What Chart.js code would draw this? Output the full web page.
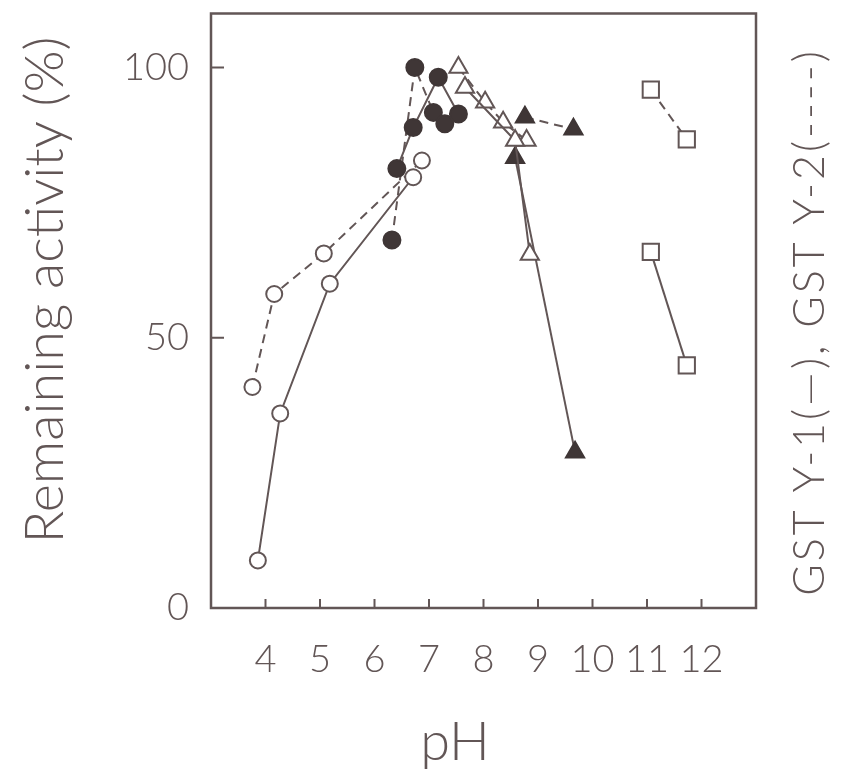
<!DOCTYPE html>
<html>
<head>
<meta charset="utf-8">
<script src="https://cdn.jsdelivr.net/npm/chart.js@4.4.1/dist/chart.umd.min.js"></script>
<style>
  html, body { margin: 0; padding: 0; background: #fff; }
  #wrap { width: 844px; height: 776px; }
</style>
</head>
<body>
<div id="wrap"><canvas id="myChart" width="844" height="776"></canvas></div>
<script>
// pH axis and activity axis
const xTicks = [4, 5, 6, 7, 8, 9, 10, 11, 12];
const yTicks = [0, 50, 100];

// [pH, remaining activity %]
// Y-1 is drawn solid, Y-2 dashed
const openCircleY1 = [[3.86, 8.8], [4.27, 36.0], [5.18, 60.0], [6.71, 79.7]];
const openCircleY2 = [[3.76, 40.9], [4.16, 58.1], [5.07, 65.6], [6.87, 82.8]];
const filledCircleY1 = [[6.41, 81.3], [6.71, 88.9], [7.17, 98.2], [7.54, 91.4]];
const filledCircleY2 = [[6.32, 68.1], [6.74, 100.0], [7.08, 91.7], [7.29, 89.6]];
const openTriangleY1 = [[7.66, 96.3], [8.58, 86.5], [8.85, 65.4]];
const openTriangleY2 = [[7.54, 100.0], [8.03, 93.6], [8.36, 89.9], [8.79, 86.5]];
const filledTriangleY1 = [[8.58, 83.3], [9.68, 28.8]];
const filledTriangleY2 = [[8.76, 90.8], [9.65, 88.6]];
const openSquareY1 = [[11.07, 65.9], [11.73, 44.9]];
const openSquareY2 = [[11.07, 95.9], [11.73, 86.7]];

const INK = "#625656";
const DARK = "#3f3636";
const FONT = "Lato";

function series(label, pts, shape, filled, dashed) {
    let r = filled ? 8.5 : 8;
    if (shape == "triangle") r = 10.5;
    if (shape == "rect") r = 11.5;
    return {
        label: label,
        data: pts.map(p => ({x: p[0], y: p[1]})),
        showLine: true,
        borderColor: INK,
        borderWidth: 2,
        borderDash: dashed ? [9, 6] : [],
        pointStyle: shape,
        pointRadius: r,
        pointHoverRadius: r,
        pointBorderWidth: 2,
        pointBorderColor: filled ? DARK : INK,
        pointBackgroundColor: filled ? DARK : "#fff"
    };
}

let datasets = [
    series("Y-1 open circle", openCircleY1, "circle", false, false),
    series("Y-2 open circle", openCircleY2, "circle", false, true),
    series("Y-1 filled circle", filledCircleY1, "circle", true, false),
    series("Y-2 filled circle", filledCircleY2, "circle", true, true),
    series("Y-1 open triangle", openTriangleY1, "triangle", false, false),
    series("Y-2 open triangle", openTriangleY2, "triangle", false, true),
    series("Y-1 filled triangle", filledTriangleY1, "triangle", true, false),
    series("Y-2 filled triangle", filledTriangleY2, "triangle", true, true),
    series("Y-1 open square", openSquareY1, "rect", false, false),
    series("Y-2 open square", openSquareY2, "rect", false, true)
];

// Box, inward ticks and the three titles
const framePlugin = {
    id: "frame",
    afterDatasetsDraw(chart) {
        const ctx = chart.ctx;
        const a = chart.chartArea;
        const x = chart.scales.x;
        const y = chart.scales.y;
        ctx.save();
        ctx.strokeStyle = INK;
        ctx.lineWidth = 2.5;
        ctx.strokeRect(a.left, a.top, a.right - a.left, a.bottom - a.top);
        ctx.lineWidth = 2;
        ctx.beginPath();
        xTicks.forEach(function(v) {
            let px = x.getPixelForValue(v);
            ctx.moveTo(px, a.bottom);
            ctx.lineTo(px, a.bottom - 9);
        });
        [50, 100].forEach(function(v) {
            let py = y.getPixelForValue(v);
            ctx.moveTo(a.left, py);
            ctx.lineTo(a.left + 13, py);
        });
        ctx.stroke();

        ctx.fillStyle = INK;
        ctx.textAlign = "center";
        ctx.textBaseline = "middle";
        ctx.font = "300 54px " + FONT;
        ctx.fillText("pH", 455, 743);

        ctx.save();
        ctx.translate(46, 290);
        ctx.rotate(-Math.PI / 2);
        ctx.font = "300 54px " + FONT;
        ctx.fillText("Remaining activity (%)", 0, 0);
        ctx.restore();

        ctx.save();
        ctx.translate(810, 322);
        ctx.rotate(-Math.PI / 2);
        ctx.font = "300 43px " + FONT;
        ctx.letterSpacing = "3px";
        ctx.fillText("GST Y-1(\u2014), GST Y-2(----)", 0, 0);
        ctx.restore();
        ctx.restore();
    }
};

const config = {
    type: "scatter",
    data: { datasets: datasets },
    options: {
        responsive: false,
        animation: false,
        events: [],
        layout: { padding: { top: 13, right: 88, left: 0, bottom: 0 } },
        plugins: { legend: { display: false }, tooltip: { enabled: false } },
        scales: {
            x: {
                type: "linear",
                min: 3,
                max: 13,
                afterBuildTicks: s => { s.ticks = xTicks.map(v => ({value: v})); },
                afterFit: s => { s.height = 168; s.paddingLeft = 0; s.paddingRight = 0; },
                grid: { display: false, drawTicks: false },
                border: { display: false },
                ticks: {
                    padding: 29,
                    color: INK,
                    font: { family: FONT, size: 38, weight: 300 }
                }
            },
            y: {
                type: "linear",
                min: 0,
                max: 110,
                afterBuildTicks: s => { s.ticks = yTicks.map(v => ({value: v})); },
                afterFit: s => { s.width = 211; s.paddingTop = 0; s.paddingBottom = 0; },
                grid: { display: false, drawTicks: false },
                border: { display: false },
                ticks: {
                    padding: 22,
                    color: INK,
                    font: { family: FONT, size: 38, weight: 300 }
                }
            }
        }
    },
    plugins: [framePlugin]
};

const myChart = new Chart(document.getElementById("myChart"), config);
</script>
</body>
</html>
